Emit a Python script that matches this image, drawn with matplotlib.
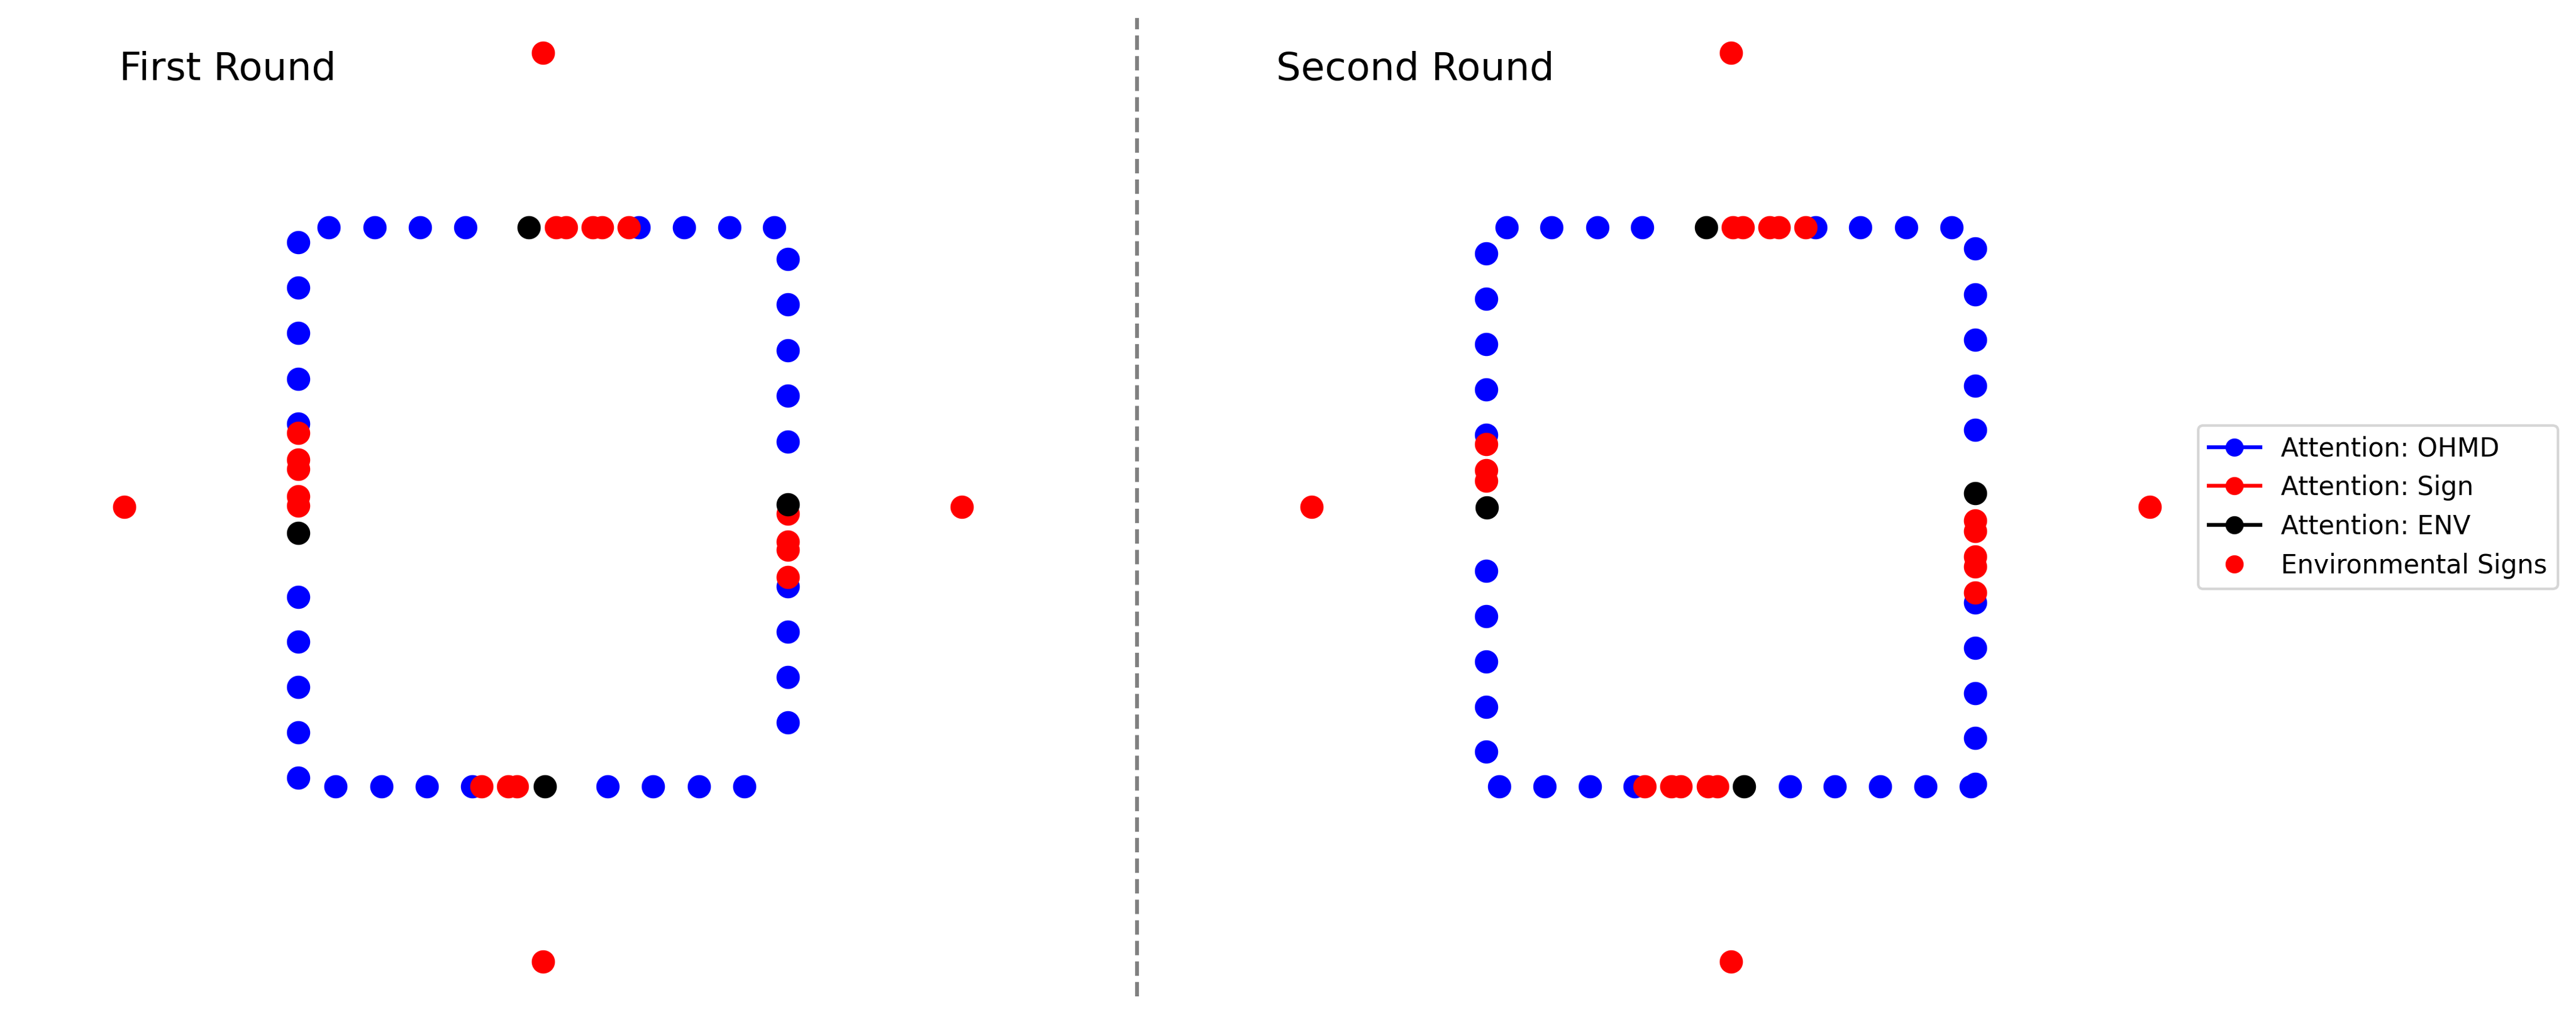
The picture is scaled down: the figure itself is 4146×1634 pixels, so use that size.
import matplotlib.pyplot as plt
from matplotlib.lines import Line2D

# Square walk edges (data units)
edge_x = 5.38
edge_y = 6.15

# Environmental sign positions (same for both rounds)
sign_x = [0, 0, -9.22, 9.22]
sign_y = [10, -10, 0, 0]

# --- First round ---
r1_ohmd_top = [-4.72, -3.71, -2.71, -1.71, 2.10, 3.10, 4.10, 5.09]
r1_ohmd_left = [5.82, 4.82, 3.83, 2.82, 1.83, -1.98, -2.97, -3.97, -4.96, -5.96]
r1_ohmd_bottom = [-4.57, -3.55, -2.56, -1.56, 1.42, 2.42, 3.43, 4.43]
r1_ohmd_right = [5.45, 4.45, 3.44, 2.45, 1.44, -1.75, -2.75, -3.74, -4.74]

r1_sign_top = [0.29, 0.50, 1.10, 1.30, 1.89]
r1_sign_left = [1.63, 1.04, 0.83, 0.23, 0.03]
r1_sign_bottom = [-1.36, -0.77, -0.57]
r1_sign_right = [-0.15, -0.76, -0.95, -1.54]

r1_env_x = [-0.31, -5.38, 0.04, 5.38]
r1_env_y = [6.15, -0.57, -6.15, 0.06]

# --- Second round ---
r2_ohmd_top = [-4.93, -3.94, -2.94, -1.95, 1.86, 2.85, 3.86, 4.86]
r2_ohmd_left = [5.58, 4.58, 3.58, 2.59, 1.59, -1.41, -2.40, -3.40, -4.40, -5.39]
r2_ohmd_bottom = [-5.10, -4.10, -3.10, -2.11, 1.30, 2.29, 3.29, 4.29, 5.28]
r2_ohmd_right = [5.69, 4.68, 3.68, 2.67, 1.69, -2.11, -3.10, -4.10, -5.09, -6.10]

r2_sign_top = [0.05, 0.26, 0.85, 1.06, 1.65]
r2_sign_left = [1.38, 0.80, 0.58]
r2_sign_bottom = [-1.90, -1.31, -1.10, -0.50, -0.30]
r2_sign_right = [-0.30, -0.53, -1.10, -1.31, -1.89]

r2_env_x = [-0.54, -5.37, 0.29, 5.38]
r2_env_y = [6.15, -0.01, -6.15, 0.30]


def edge_points(top, left, bottom, right):
    """Turn per-edge positions into x/y lists around the square"""
    xs = list(top) + [-edge_x] * len(left) + list(bottom) + [edge_x] * len(right)
    ys = [edge_y] * len(top) + list(left) + [-edge_y] * len(bottom) + list(right)
    return xs, ys


rounds = [
    ('First Round', -9.33,
     edge_points(r1_ohmd_top, r1_ohmd_left, r1_ohmd_bottom, r1_ohmd_right),
     edge_points(r1_sign_top, r1_sign_left, r1_sign_bottom, r1_sign_right),
     (r1_env_x, r1_env_y)),
    ('Second Round', -10.0,
     edge_points(r2_ohmd_top, r2_ohmd_left, r2_ohmd_bottom, r2_ohmd_right),
     edge_points(r2_sign_top, r2_sign_left, r2_sign_bottom, r2_sign_right),
     (r2_env_x, r2_env_y)),
]

W, H = 4146, 1634
fig = plt.figure(figsize=(W / 300, H / 300), dpi=300)

unit = 73.15          # pixels per data unit
centers = [874, 2785.6]
cy = 816
xl, yl = 11.5, 11.0

for (title, tx, ohmd, sign, env), cx in zip(rounds, centers):
    left = (cx - xl * unit) / W
    bottom = (H - cy - yl * unit) / H
    ax = fig.add_axes([left, bottom, 2 * xl * unit / W, 2 * yl * unit / H])
    ax.set_xlim(-xl, xl)
    ax.set_ylim(-yl, yl)
    ax.axis('off')

    ax.plot(ohmd[0], ohmd[1], 'o', color='blue', markersize=8)
    ax.plot(sign[0], sign[1], 'o', color='red', markersize=8)
    ax.plot(env[0], env[1], 'o', color='black', markersize=8)
    ax.plot(sign_x, sign_y, 'o', color='red', markersize=8)

    ax.text(tx, 9.385, title, fontsize=15, ha='left', va='baseline')

# Divider between the two rounds (drawn bottom -> top)
fig.add_artist(Line2D([1830 / W, 1830 / W], [30 / H, 1605 / H],
                      transform=fig.transFigure, color='grey',
                      linestyle='--', linewidth=1.5))

handles = [
    Line2D([0], [0], color='blue', marker='o', label='Attention: OHMD'),
    Line2D([0], [0], color='red', marker='o', label='Attention: Sign'),
    Line2D([0], [0], color='black', marker='o', label='Attention: ENV'),
    Line2D([0], [0], color='red', marker='o', linestyle='none', label='Environmental Signs'),
]
fig.legend(handles=handles, loc='upper left', borderaxespad=0,
           bbox_to_anchor=(3538 / W, 1 - 684.5 / H))

plt.savefig('out.png', dpi=300)
